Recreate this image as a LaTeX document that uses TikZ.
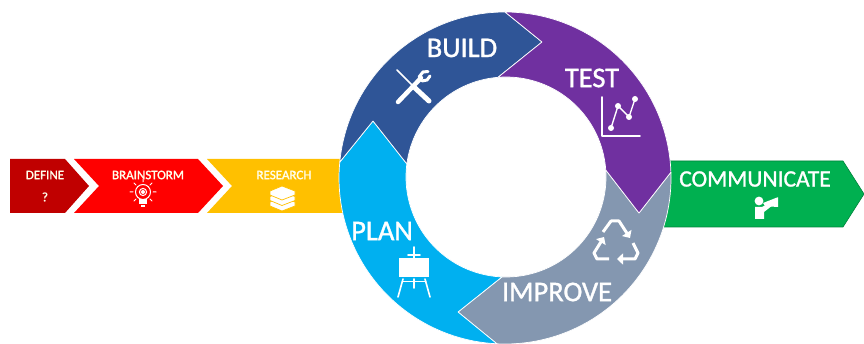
\documentclass[tikz,border=0pt]{standalone}
\usepackage{fontspec}
\setmainfont{Carlito}
\newfontfamily\heavyfont[FakeBold=1.2]{Carlito}
\newfontfamily\smallheavy[FakeBold=1.5]{Carlito}
\definecolor{cdefine}{HTML}{C00000}
\definecolor{cbrain}{HTML}{FF0000}
\definecolor{cresearch}{HTML}{FFC000}
\definecolor{cbuild}{HTML}{2F5597}
\definecolor{ctest}{HTML}{7030A0}
\definecolor{cimprove}{HTML}{8497B0}
\definecolor{cplan}{HTML}{00B0F0}
\definecolor{ccomm}{HTML}{00B050}
\usetikzlibrary{arrows.meta}
\tikzset{
  seg/.style={draw=white,line width=0.7pt,line join=round},
  bigtext/.style={text=white,inner sep=0pt,font=\heavyfont\fontsize{28.5}{30}\selectfont},
  smalltext/.style={text=white!92!yellow,inner sep=0pt,font=\smallheavy\fontsize{13}{14}\selectfont},
  icon/.style={draw=white,line width=1.6pt,line cap=round,line join=round},
  thinicon/.style={draw=white,line width=1pt,line cap=round,line join=round},
  chase/.style={draw=white,line width=3pt,line join=round,-{Triangle[length=6pt,width=11pt]}},
}
\begin{document}
\begin{tikzpicture}[x=1pt,y=-1pt]
\useasboundingbox (0,0) rectangle (864,344);
\fill[white] (0,0) rectangle (864,344);
% bar on the left
\fill[cdefine] (10,159) -- (65,159) -- (89,186) -- (65,213) -- (10,213) -- cycle;
\fill[cbrain] (74,159) -- (198,159) -- (223,186) -- (198,213) -- (74,213) -- (99,186) -- cycle;
\fill[cresearch] (207,159) -- (345,159) -- (345,213) -- (207,213) -- (232,186) -- cycle;
% arrow on the right
\filldraw[fill=ccomm,draw=ccomm!75!black,line width=0.6pt] (660,161) -- (843,161) -- (864,194) -- (843,227) -- (660,227) -- cycle;
% ring
\coordinate (oc) at (505,178);
\coordinate (ic) at (506,177);
\coordinate (oa) at ([shift={(185.5:166)}]oc);
\coordinate (ob) at ([shift={(270:166)}]oc);
\coordinate (occ) at ([shift={(358:166)}]oc);
\coordinate (od) at ([shift={(92.8:166)}]oc);
\coordinate (ia) at ([shift={(187.5:100)}]ic);
\coordinate (ib) at ([shift={(265.4:100)}]ic);
\coordinate (icc) at ([shift={(356:100)}]ic);
\coordinate (id) at ([shift={(92.3:100)}]ic);
\coordinate (tipplan) at (373,121);
\coordinate (tipbuild) at (542,42);
\coordinate (tiptest) at (639,213);
\coordinate (tipimp) at (458,312);
\path[seg,fill=cimprove] (occ) arc[start angle=-2,end angle=92.8,radius=166] -- (tipimp) -- (id) arc[start angle=92.3,end angle=-4,radius=100] -- (tiptest) -- cycle;
\path[seg,fill=cplan] (od) arc[start angle=92.8,end angle=185.5,radius=166] -- (tipplan) -- (ia) arc[start angle=187.5,end angle=92.3,radius=100] -- (tipimp) -- cycle;
\path[seg,fill=cbuild] (oa) arc[start angle=185.5,end angle=270,radius=166] -- (tipbuild) -- (ib) arc[start angle=265.4,end angle=187.5,radius=100] -- (tipplan) -- cycle;
\path[seg,fill=ctest] (ob) arc[start angle=270,end angle=358,radius=166] -- (tiptest) -- (icc) arc[start angle=356,end angle=265.4,radius=100] -- (tipbuild) -- cycle;
% labels
\node[smalltext] (define) at (45,175) {DEFINE};
\node[smalltext] (qmark) at (45,197) {?};
\node[smalltext] (brainstorm) at (148,175) {BRAINSTORM};
\node[smalltext] (research) at (284,175) {RESEARCH};
\node[bigtext] (build) at (462,48) {BUILD};
\node[bigtext] (test) at (592,78) {TEST};
\node[bigtext] (plan) at (382,231) {PLAN};
\node[bigtext] (improve) at (557,292) {IMPROVE};
\node[bigtext,font=\heavyfont\fontsize{23.5}{25}\selectfont] (communicate) at (755,179) {COMMUNICATE};
% bulb icon
\draw[thinicon] (143,192) circle (7.5);
\fill[white] (143,192) circle (2);
\draw[thinicon] (143,192) circle (3.6);
\fill[white] (139,199) rectangle (147,204);
\fill[white] (141,205) rectangle (145,207);
\draw[thinicon] (143,182) -- (143,179.5) (133,192) -- (130,192) (153,192) -- (156,192)
  (136,185) -- (134,183) (150,185) -- (152,183) (136,199) -- (134,201) (150,199) -- (152,201);
% books icon
\foreach \yy in {202,196.5,191}{
  \filldraw[fill=white,draw=cresearch,line width=0.7pt,line join=round] (270,\yy) -- (282,\yy-5) -- (295,\yy) -- (295,\yy+4) -- (282,\yy+9) -- (270,\yy+4) -- cycle;
}
% tools icon
\draw[icon,line width=1.5pt] (397,70) -- (412,85);
\draw[white,line width=5pt,line cap=round] (415,88) -- (429,101);
\draw[white,line width=4.5pt,line cap=round] (398,102) -- (421,78);
\draw[white,line width=3pt,line cap=round] (419,77) -- (423,72) -- (428,71.5);
\draw[white,line width=3pt,line cap=round] (422,81) -- (427,80) -- (430,76);
% chart icon
\draw[icon] (602,97) -- (602,136) -- (640,136);
\draw[thinicon,line width=1.4pt] (611,128) -- (618,106) -- (629,117) -- (635,99);
\foreach \px/\py in {611/128,618/106,629/117,635/99}{\fill[white] (\px,\py) circle (3);}
% recycle icon
\draw[chase] (603,232) -- (611,221) -- (619,221) -- (630,238);
\draw[chase] (633,243) -- (638,253) -- (635,259) -- (617,259);
\draw[chase] (609,259) -- (597,259) -- (594,253) -- (604,237);
% easel icon
\fill[white] (399,258) rectangle (429,277);
\draw[icon] (414,247) -- (414,258);
\draw[icon] (408,255) -- (420,255);
\draw[icon] (403,279) -- (398,297);
\draw[icon] (425,279) -- (430,297);
\draw[icon] (414,279) -- (414,288);
\draw[thinicon] (402,282) -- (426,282);
% megaphone icon
\fill[white] (759,201) circle (4.4);
\fill[white] (755,207) -- (762,207) -- (771,202) -- (773,205) -- (764,212) -- (764,219) -- (755,219) -- cycle;
\fill[white] (763,203) -- (777,197.5) -- (778,197.5) -- (778,207) -- (777,207) -- (765,206) -- cycle;
\end{tikzpicture}
\end{document}
